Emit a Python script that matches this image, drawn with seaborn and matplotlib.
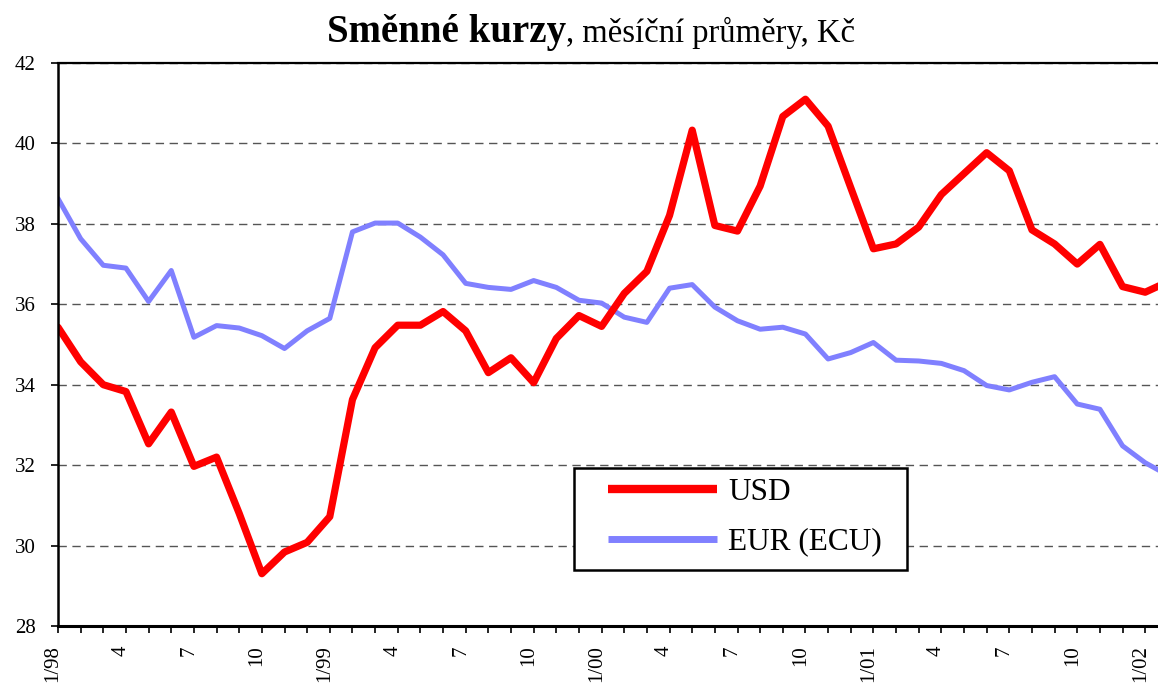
import numpy as np
import pandas as pd
import seaborn as sns
import matplotlib.pyplot as plt
from matplotlib.patches import Rectangle
from matplotlib.ticker import MultipleLocator, FixedLocator
from matplotlib.transforms import ScaledTranslation

# --- data: monthly averages 1/98 .. 2/02 ---
usd = [35.43, 34.57, 34.00, 33.83, 32.53, 33.32, 31.97, 32.20, 30.80, 29.30, 29.84, 30.08,
       30.72, 33.63, 34.92, 35.48, 35.48, 35.82, 35.34, 34.30, 34.67, 34.05, 35.15, 35.72,
       35.45, 36.27, 36.82, 38.21, 40.33, 37.96, 37.82, 38.94, 40.67, 41.10, 40.43, 38.90,
       37.38, 37.50, 37.92, 38.73, 39.25, 39.77, 39.32, 37.85, 37.50, 37.00, 37.49, 36.44,
       36.30, 36.56]
eur = [38.63, 37.63, 36.97, 36.90, 36.07, 36.84, 35.18, 35.47, 35.41, 35.22, 34.90, 35.34,
       35.65, 37.80, 38.02, 38.02, 37.67, 37.23, 36.52, 36.42, 36.37, 36.59, 36.42, 36.10,
       36.03, 35.68, 35.55, 36.40, 36.49, 35.93, 35.59, 35.38, 35.43, 35.26, 34.64, 34.80,
       35.05, 34.61, 34.59, 34.53, 34.35, 33.98, 33.87, 34.06, 34.20, 33.52, 33.39, 32.48,
       32.06, 31.75]
mesic = list(range(len(usd)))
tick_labels = ["1/98", "4", "7", "10", "1/99", "4", "7", "10", "1/00", "4", "7", "10",
               "1/01", "4", "7", "10", "1/02"]
y_ticks = [28, 30, 32, 34, 36, 38, 40, 42]

df = pd.DataFrame({"mesic": mesic, "USD": usd, "EUR (ECU)": eur})

sns.set_style("white")
plt.rcParams['font.family'] = ['Liberation Serif', 'DejaVu Serif']
plt.rcParams['text.color'] = 'black'
plt.rcParams['xtick.color'] = 'black'
plt.rcParams['ytick.color'] = 'black'

W, H = 1158, 686
fig = plt.figure(figsize=(W / 100, H / 100), dpi=100)
ax = fig.add_axes([58 / W, 1 - 626 / H, 1 - 58 / W, (626 - 63) / H])

sns.lineplot(data=df, x="mesic", y="EUR (ECU)", ax=ax, color="#8080FF", lw=3.6,
             label="EUR (ECU)")
sns.lineplot(data=df, x="mesic", y="USD", ax=ax, color="#FF0000", lw=5.2, label="USD")

# osy
ax.set_xlim(0, (W - 58) / 22.65)
ax.set_ylim(28, 42)
ax.set_xlabel("")
ax.set_ylabel("")
ax.set_yticks(y_ticks)
ax.set_yticklabels([str(v) for v in y_ticks])
ax.xaxis.set_major_locator(FixedLocator(np.arange(0, 3 * len(tick_labels), 3)))
ax.set_xticklabels(tick_labels, rotation=90)
ax.xaxis.set_minor_locator(MultipleLocator(1))
ax.tick_params(axis="both", which="both", direction="out", length=5, width=1.2,
               color="black", labelsize=15, labelcolor="black", bottom=True, left=True)
ax.tick_params(axis="y", pad=11)
ax.tick_params(axis="x", pad=9)
for lab in ax.get_xticklabels():
    lab.set_transform(lab.get_transform() + ScaledTranslation(-5 / 100, 0, fig.dpi_scale_trans))

ax.yaxis.grid(True, linestyle=(0, (6, 4)), color="#555555", lw=1.0)
ax.xaxis.grid(False)
ax.set_axisbelow(True)

for side in ["left", "top", "bottom"]:
    ax.spines[side].set_visible(True)
    ax.spines[side].set_color("black")
ax.spines["left"].set_linewidth(1.8)
ax.spines["top"].set_linewidth(1.6)
ax.spines["bottom"].set_linewidth(2.2)
ax.spines["right"].set_visible(False)

# legenda (ramecek kreslime zvlast)
handles, labels = ax.get_legend_handles_labels()
order = [labels.index("USD"), labels.index("EUR (ECU)")]
leg = ax.legend([handles[i] for i in order], [labels[i] for i in order],
                loc="upper left", bbox_to_anchor=(608 / W, 1 - 478 / H),
                bbox_transform=fig.transFigure, fontsize=22.5, frameon=False,
                handlelength=3.5, handletextpad=0.35, labelspacing=0.66,
                borderpad=0, borderaxespad=0)
for h in leg.get_lines():
    h.set_linewidth(6 if h.get_color() == "#FF0000" else 5)
    h.set_solid_capstyle("butt")
leg.set_zorder(6)
ax.add_patch(Rectangle((574 / W, 1 - 570 / H), (907 - 574) / W, (570 - 468) / H,
                       transform=fig.transFigure, facecolor="white",
                       edgecolor="black", lw=1.8, zorder=5, clip_on=False))

# titulek: tucna cast + normalni cast
fig.canvas.draw()
r = fig.canvas.get_renderer()
t1 = fig.text(0, 1 - 42 / H, "Směnné kurzy", fontsize=28, fontweight="bold",
              va="baseline", ha="left", color="black")
t2 = fig.text(0, 1 - 42 / H, ", měsíční průměry, Kč", fontsize=23.5,
              va="baseline", ha="left", color="black")
w1 = t1.get_window_extent(r).width
w2 = t2.get_window_extent(r).width
x0 = 591 - (w1 + w2) / 2
t1.set_x(x0 / W)
t2.set_x((x0 + w1) / W)

fig.savefig("out.png", dpi=100)
